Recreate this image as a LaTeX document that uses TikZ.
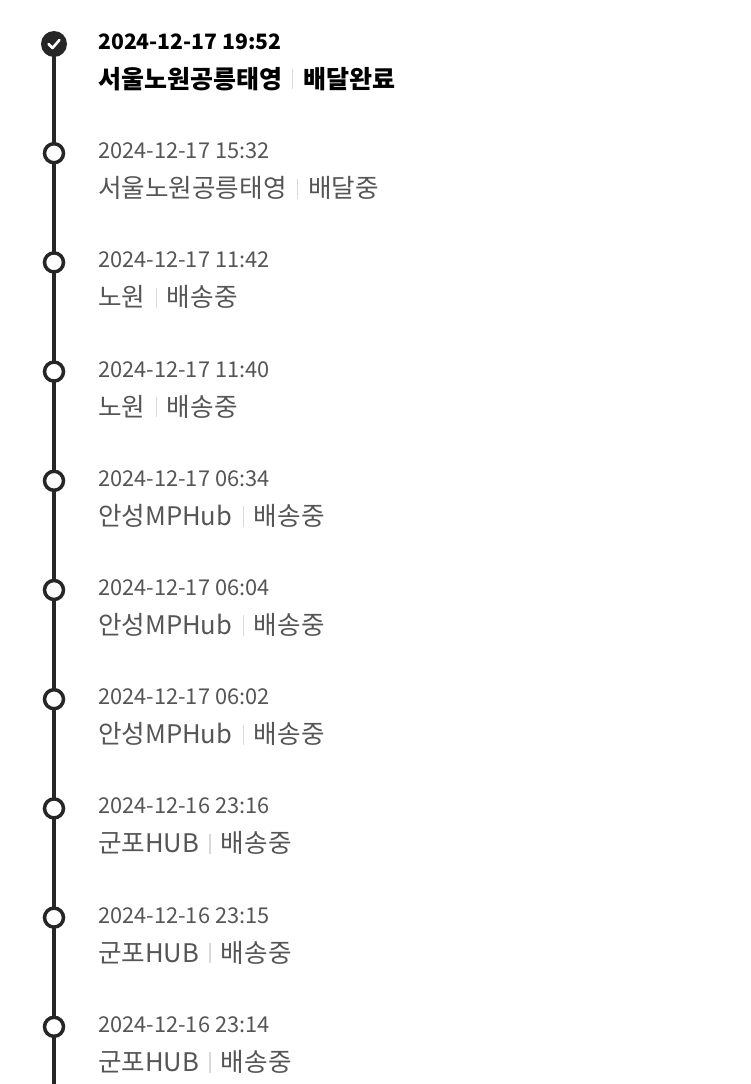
\documentclass[tikz,border=0pt]{standalone}
\usepackage{fontspec}
\setmainfont{Noto Sans CJK KR}
\definecolor{txt}{HTML}{555555}
\newcommand{\sepbar}{\hspace{0.4em}{\color{black!15}\rule[-0.05em]{1.2pt}{0.8em}}\hspace{0.4em}}
\begin{document}
\begin{tikzpicture}[x=1pt,y=-1pt,
  dot/.style={circle,draw=black!85,line width=3.5pt,fill=white,minimum size=19pt,inner sep=0pt},
  datet/.style={anchor=base west,inner sep=0pt,text=txt,font=\fontsize{21.8}{22}\selectfont},
  placet/.style={anchor=base west,inner sep=0pt,text=txt,font=\fontsize{25.6}{26}\selectfont}]
\useasboundingbox (0,0) rectangle (750,1084);
\draw[line width=4pt,black!85] (54,44) -- (54,1084);
\node[circle,fill=black!85,minimum size=26pt,inner sep=0pt] (d0) at (54,44) {};
\draw[white,line width=2.6pt,line cap=round,line join=round] (48.5,44) -- (52.5,48) -- (59.5,40);
\node[datet,text=black,font=\fontsize{21.2}{22}\selectfont\bfseries] (t0) at (98,49) {2024-12-17 19:52};
\node[placet,text=black,font=\fontsize{25}{26}\selectfont\bfseries] (p0) at (98,88) {서울노원공릉태영\sepbar 배달완료};
\foreach \i/\dt/\pl in {1/2024-12-17 15:32/서울노원공릉태영\sepbar 배달중,
  2/2024-12-17 11:42/노원\sepbar 배송중,
  3/2024-12-17 11:40/노원\sepbar 배송중,
  4/2024-12-17 06:34/안성MPHub\sepbar 배송중,
  5/2024-12-17 06:04/안성MPHub\sepbar 배송중,
  6/2024-12-17 06:02/안성MPHub\sepbar 배송중,
  7/2024-12-16 23:16/군포HUB\sepbar 배송중,
  8/2024-12-16 23:15/군포HUB\sepbar 배송중,
  9/2024-12-16 23:14/군포HUB\sepbar 배송중}{
  \pgfmathsetmacro{\yy}{44+109.2*\i}
  \node[dot] (d\i) at (54,\yy) {};
  \node[datet] (t\i) at (98,\yy+5.5) {\dt};
  \node[placet] (p\i) at (98,\yy+44.5) {\pl};
}
\end{tikzpicture}
\end{document}
